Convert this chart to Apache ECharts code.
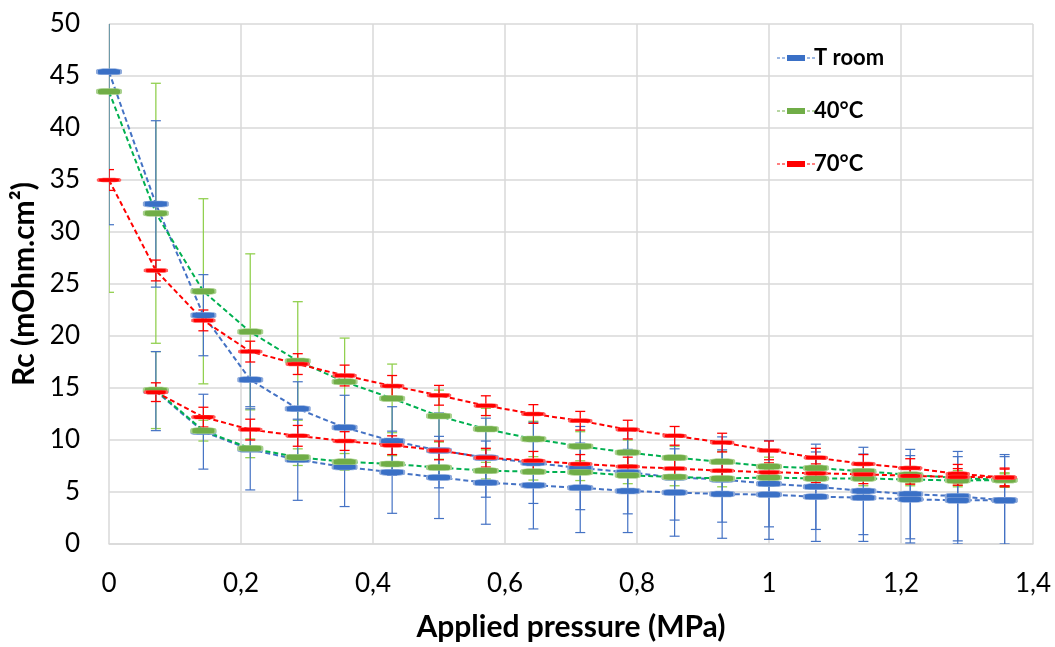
<!DOCTYPE html>
<html><head><meta charset="utf-8">
<script src="https://cdn.jsdelivr.net/npm/echarts@6/dist/echarts.min.js"></script>
<style>html,body{margin:0;padding:0;background:#fff}#c{width:1055px;height:647px}</style>
</head><body><div id="c"></div>
<script>
// Applied pressure (MPa)
const xs = [0, 0.071, 0.143, 0.214, 0.286, 0.357, 0.429, 0.5, 0.571, 0.643, 0.714, 0.786, 0.857, 0.929, 1.0, 1.071, 1.143, 1.214, 1.286, 1.357];
const xsUnload = xs.slice(1);
const xTicks = [0, 0.2, 0.4, 0.6, 0.8, 1, 1.2, 1.4];

const troomLoad = [45.4, 32.7, 22.0, 15.8, 13.0, 11.2, 9.9, 9.0, 8.3, 7.8, 7.3, 6.9, 6.4, 6.2, 5.8, 5.5, 5.1, 4.8, 4.6, 4.2];
const troomLoadErr = [14.7, 8.0, 3.9, 2.6, 2.6, 3.1, 3.3, 3.6, 3.8, 3.9, 4.0, 4.0, 4.1, 4.1, 4.15, 4.1, 4.2, 4.3, 4.3, 4.4];
const troomUnload = [14.7, 10.8, 9.1, 8.1, 7.4, 6.9, 6.4, 5.9, 5.65, 5.4, 5.1, 4.95, 4.8, 4.75, 4.55, 4.45, 4.3, 4.2, 4.2];
const troomUnloadErr = [3.8, 3.6, 3.9, 3.9, 3.8, 3.95, 3.95, 4.0, 4.2, 4.3, 4.0, 4.2, 4.25, 4.3, 4.3, 4.2, 4.2, 4.2, 4.2];

const c40Load = [43.5, 31.8, 24.3, 20.4, 17.6, 15.6, 14.0, 12.3, 11.05, 10.1, 9.4, 8.8, 8.3, 7.9, 7.45, 7.3, 7.0, 6.65, 6.35, 6.15];
const c40LoadErr = [19.3, 12.5, 8.9, 7.5, 5.7, 4.2, 3.3, 2.5, 2.0, 1.7, 1.4, 1.2, 1.1, 1.0, 0.9, 0.9, 0.8, 0.8, 0.7, 0.7];
const c40Unload = [14.8, 10.9, 9.2, 8.35, 7.9, 7.7, 7.35, 7.05, 6.95, 6.9, 6.6, 6.45, 6.3, 6.4, 6.3, 6.3, 6.2, 6.1, 6.15];
const c40UnloadErr = [3.7, 1.0, 0.9, 0.8, 0.8, 0.8, 0.8, 0.8, 0.8, 0.8, 0.8, 0.85, 0.8, 0.8, 0.7, 0.7, 0.6, 0.6, 0.6];

const c70Load = [35.0, 26.3, 21.5, 18.5, 17.3, 16.2, 15.2, 14.3, 13.3, 12.5, 11.85, 11.0, 10.4, 9.75, 9.0, 8.3, 7.7, 7.3, 6.75, 6.4];
const c70LoadErr = [1.0, 1.0, 1.0, 1.0, 1.0, 1.0, 1.0, 0.95, 0.95, 0.9, 0.9, 0.9, 0.9, 0.9, 0.9, 0.9, 0.9, 0.9, 0.9, 0.9];
const c70Unload = [14.6, 12.2, 11.0, 10.4, 9.9, 9.5, 9.0, 8.3, 8.0, 7.7, 7.45, 7.25, 7.05, 6.9, 6.8, 6.7, 6.55, 6.45, 6.4];
const c70UnloadErr = [0.9, 0.95, 1.0, 1.0, 0.9, 0.9, 0.9, 0.9, 0.9, 0.9, 0.9, 0.9, 0.9, 0.9, 0.9, 0.9, 0.8, 0.8, 0.8];

const names = ['T room', '40°C', '70°C'];

function pts(x, y) { return x.map((v, i) => [v, y[i]]); }
function errs(x, y, e) { return x.map((v, i) => [v, y[i] - e[i], y[i] + e[i]]); }

function errSeries(data, color, width) {
  return {
    type: 'custom', silent: true, clip: true, z: 1,
    data: data,
    renderItem: function (params, api) {
      const lo = api.coord([api.value(0), api.value(1)]);
      const hi = api.coord([api.value(0), api.value(2)]);
      const w = 5;
      const st = { stroke: color, lineWidth: width };
      return { type: 'group', children: [
        { type: 'line', shape: { x1: lo[0], y1: lo[1], x2: hi[0], y2: hi[1] }, style: st },
        { type: 'line', shape: { x1: lo[0] - w, y1: lo[1], x2: lo[0] + w, y2: lo[1] }, style: st },
        { type: 'line', shape: { x1: hi[0] - w, y1: hi[1], x2: hi[0] + w, y2: hi[1] }, style: st }
      ]};
    }
  };
}

function lineSeries(name, data, lineColor, markColor, border, size) {
  return {
    name: name, type: 'line', data: data, z: 3,
    symbol: 'roundRect', symbolSize: size, showSymbol: true,
    lineStyle: { color: lineColor, width: 2, type: [5, 3] },
    itemStyle: { color: markColor, borderColor: border, borderWidth: 1 },
    emphasis: { disabled: true }, animation: false
  };
}

const legendIcon = 'path://M0 2.4h3v1.2h-3z M5 2.4h3v1.2h-3z M10 0h18v6h-18z M30 2.4h3v1.2h-3z M35 2.4h3v1.2h-3z';

const blueL = '#4472C4', blueM = '#3A70C6', blueB = '#8EAADB';
const greenL = '#00B050', greenM = '#70AD47', greenB = '#A9D18E';
const redL = '#FF0000', redM = '#FF0000', redB = '#FF6060';
const FONT = 'Lato';

const option = {
  animation: false,
  textStyle: { fontFamily: FONT },
  grid: { left: 109, right: 22, top: 24, bottom: 101, containLabel: false },
  legend: {
    left: 772, top: 42, orient: 'vertical', itemGap: 31,
    itemWidth: 38, itemHeight: 6,
    data: [
      { name: names[0], icon: legendIcon, itemStyle: { color: blueM, borderWidth: 0 } },
      { name: names[1], icon: legendIcon, itemStyle: { color: greenM, borderWidth: 0 } },
      { name: names[2], icon: legendIcon, itemStyle: { color: redM, borderWidth: 0 } }
    ],
    textStyle: { fontSize: 22, fontWeight: 'bold', color: '#000', fontFamily: FONT, padding: [0, 0, 0, -6] }
  },
  xAxis: {
    type: 'value', min: 0, max: 1.4, interval: 0.2,
    name: 'Applied pressure (MPa)', nameLocation: 'middle', nameGap: 68,
    nameTextStyle: { fontSize: 30, fontWeight: 'bold', color: '#000', fontFamily: FONT },
    axisLine: { show: true, lineStyle: { color: '#d9d9d9', width: 1.5 } },
    axisTick: { show: false },
    axisLabel: { fontSize: 26, color: '#000', margin: 27, fontFamily: FONT,
      formatter: v => { const t = xTicks.find(k => Math.abs(k - v) < 1e-6); return String(t !== undefined ? t : v).replace('.', ','); } },
    splitLine: { show: true, lineStyle: { color: '#d9d9d9', width: 1.5 } }
  },
  yAxis: {
    type: 'value', min: 0, max: 50, interval: 5,
    name: 'Rc (mOhm.cm²)', nameLocation: 'middle', nameGap: 67,
    nameTextStyle: { fontSize: 30, fontWeight: 'bold', color: '#000', fontFamily: FONT },
    axisLine: { show: false }, axisTick: { show: false },
    axisLabel: { fontSize: 26, color: '#000', margin: 29, fontFamily: FONT },
    splitLine: { show: true, lineStyle: { color: '#d9d9d9', width: 1.5 } }
  },
  series: [
    errSeries(errs(xs, c40Load, c40LoadErr), '#92D050', 1.3),
    errSeries(errs(xsUnload, c40Unload, c40UnloadErr), '#92D050', 1.3),
    errSeries(errs(xs, troomLoad, troomLoadErr), '#4472C4', 1.2),
    errSeries(errs(xsUnload, troomUnload, troomUnloadErr), '#4472C4', 1.2),
    errSeries(errs(xs, c70Load, c70LoadErr), '#FF0000', 1.3),
    errSeries(errs(xsUnload, c70Unload, c70UnloadErr), '#FF0000', 1.3),
    lineSeries(names[0], pts(xs, troomLoad), blueL, blueM, blueB, [24, 6]),
    lineSeries(names[0], pts(xsUnload, troomUnload), blueL, blueM, blueB, [24, 6]),
    lineSeries(names[1], pts(xs, c40Load), greenL, greenM, greenB, [24, 6]),
    lineSeries(names[1], pts(xsUnload, c40Unload), greenL, greenM, greenB, [24, 6]),
    lineSeries(names[2], pts(xs, c70Load), redL, redM, redB, [22, 4]),
    lineSeries(names[2], pts(xsUnload, c70Unload), redL, redM, redB, [22, 4])
  ]
};
const chart = echarts.init(document.getElementById('c'), null, { renderer: 'canvas' });
chart.setOption(option);
</script></body></html>
